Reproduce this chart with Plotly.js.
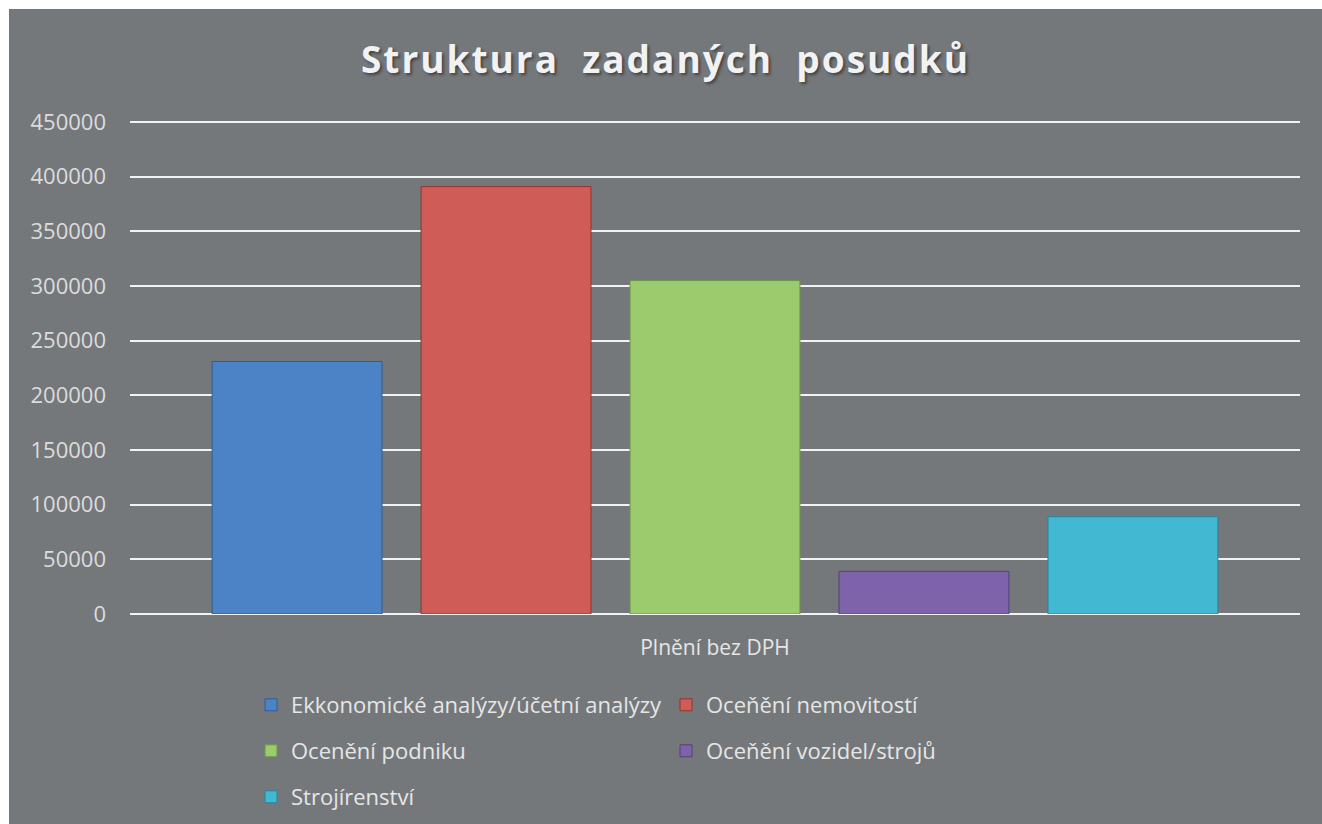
<!DOCTYPE html>
<html>
<head>
<meta charset="utf-8">
<script src="https://cdn.plot.ly/plotly-3.0.1.min.js"></script>
<style>
html,body{margin:0;padding:0;background:#ffffff;}
#chart{position:absolute;left:9px;top:9px;width:1313px;height:815px;}
#chart .gtitle{letter-spacing:2px;}
</style>
</head>
<body>
<div id="chart"></div>
<script>
const category = ['Plnění bez DPH'];
const seriesNames = [
  'Ekkonomické analýzy/účetní analýzy',
  'Oceňění nemovitostí',
  'Ocenění podniku',
  'Oceňění vozidel/strojů',
  'Strojírenství'
];
const seriesValues = [231000, 391000, 305000, 39000, 89000];
const tickValues = [0, 50000, 100000, 150000, 200000, 250000, 300000, 350000, 400000, 450000];
const tickLabels = ['0', '50000', '100000', '150000', '200000', '250000', '300000', '350000', '400000', '450000'];

const fillColors = ['#4c82c6', '#cf5c57', '#9ccb6d', '#7e63ab', '#42b8d2'];
const edgeColors = ['#2f5d94', '#8e3532', '#6e9448', '#54407a', '#2a8499'];
const legendIds = ['legend', 'legend', 'legend2', 'legend2', 'legend3'];

const FONT = '"Open Sans", "Noto Sans", sans-serif';

const traces = seriesNames.map((name, i) => ({
  type: 'bar',
  name: name,
  x: category,
  y: [seriesValues[i]],
  legend: legendIds[i],
  marker: {color: fillColors[i], line: {color: edgeColors[i], width: 1}},
  hoverinfo: 'name+y'
}));

const legendBase = {
  orientation: 'h',
  xref: 'container', yref: 'container',
  xanchor: 'left', yanchor: 'middle',
  bgcolor: 'rgba(0,0,0,0)',
  font: {family: FONT, size: 22, color: '#e6e6e6'},
  entrywidth: 370, entrywidthmode: 'pixels',
  itemclick: false, itemdoubleclick: false
};

const layout = {
  width: 1313, height: 815,
  paper_bgcolor: '#75787b',
  plot_bgcolor: '#75787b',
  margin: {l: 121, r: 22, t: 112, b: 210},
  title: {
    text: 'Struktura&nbsp;&nbsp;zadaných&nbsp;&nbsp;posudků',
    x: 0.5, xanchor: 'center',
    y: 1 - 51 / 815, yanchor: 'middle', yref: 'container',
    font: {family: FONT, size: 37, weight: 'bold', color: '#f2f2f2', shadow: '2px 2px 3px rgba(0,0,0,0.45)'}
  },
  barmode: 'group',
  bargap: 0.107,
  bargroupgap: 0.187,
  showlegend: true,
  legend: Object.assign({}, legendBase, {x: 242 / 1313, y: 1 - 696 / 815}),
  legend2: Object.assign({}, legendBase, {x: 242 / 1313, y: 1 - 742 / 815}),
  legend3: Object.assign({}, legendBase, {x: 242 / 1313, y: 1 - 788 / 815}),
  xaxis: {
    type: 'category',
    showgrid: false, showline: false, zeroline: false, ticks: '',
    tickfont: {family: FONT, size: 21, color: '#e6e6e6'},
    ticklabelstandoff: 19
  },
  yaxis: {
    range: [0, 451000],
    tickvals: tickValues, ticktext: tickLabels,
    showgrid: true, gridcolor: '#f2f2f2', gridwidth: 2,
    zeroline: true, zerolinecolor: '#f2f2f2', zerolinewidth: 2,
    showline: false, ticks: '',
    tickfont: {family: FONT, size: 22, color: '#dcdcdc'},
    ticklabelstandoff: 23
  },
  hovermode: false
};

Plotly.newPlot('chart', traces, layout, {displayModeBar: false, staticPlot: true});
</script>
</body>
</html>
